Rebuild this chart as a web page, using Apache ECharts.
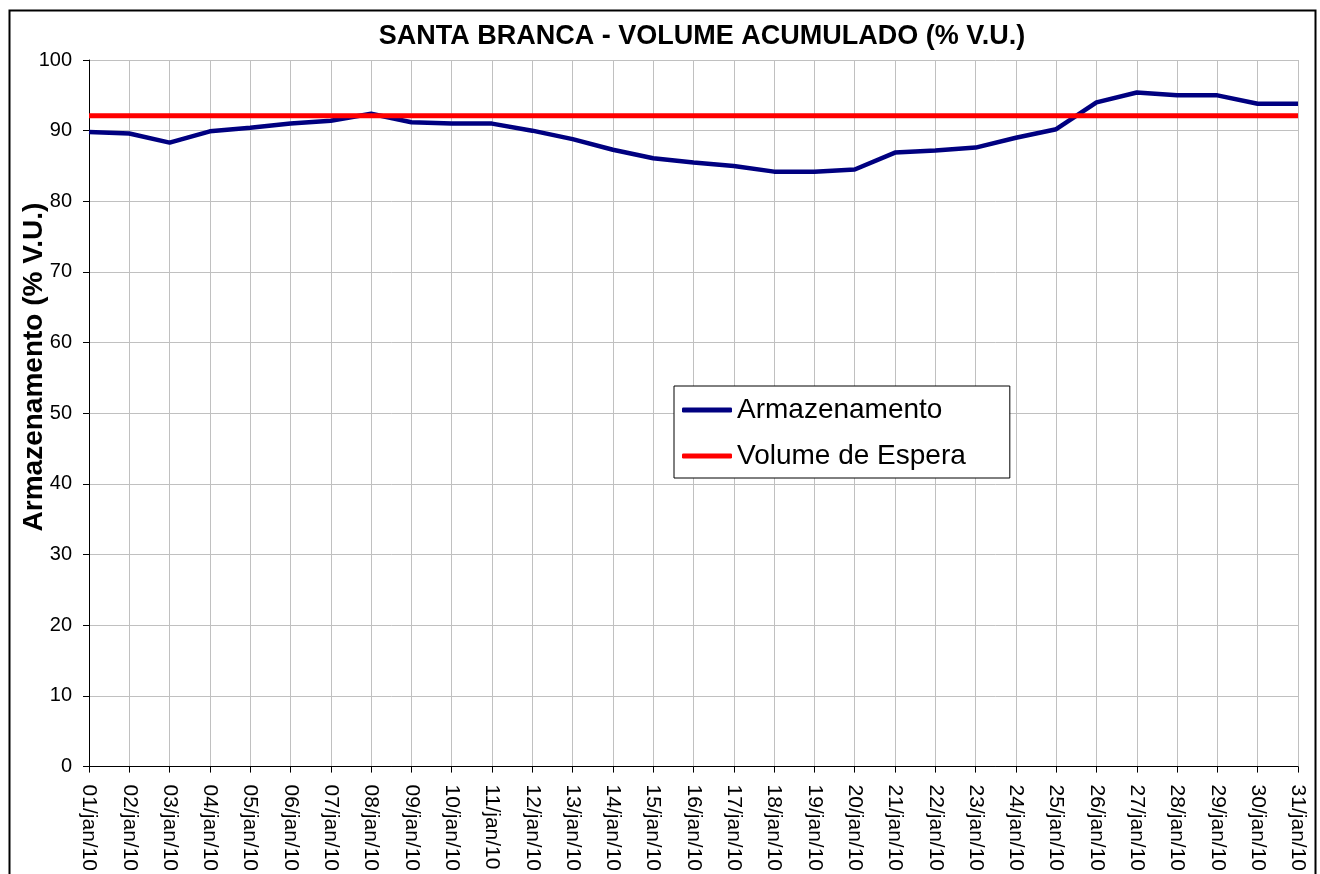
<!DOCTYPE html>
<html>
<head>
<meta charset="utf-8">
<script src="https://cdn.jsdelivr.net/npm/echarts@6/dist/echarts.min.js"></script>
<style>
  html, body { margin: 0; padding: 0; background: #fff; }
  #chart { width: 1320px; height: 874px; }
</style>
</head>
<body>
<div id="chart"></div>
<script>
// datas (eixo x)
var aDatas = ['01/jan/10', '02/jan/10', '03/jan/10', '04/jan/10', '05/jan/10', '06/jan/10', '07/jan/10',
    '08/jan/10', '09/jan/10', '10/jan/10', '11/jan/10', '12/jan/10', '13/jan/10', '14/jan/10',
    '15/jan/10', '16/jan/10', '17/jan/10', '18/jan/10', '19/jan/10', '20/jan/10', '21/jan/10',
    '22/jan/10', '23/jan/10', '24/jan/10', '25/jan/10', '26/jan/10', '27/jan/10', '28/jan/10',
    '29/jan/10', '30/jan/10', '31/jan/10'];
// armazenamento (% V.U.)
var aArmazenamento = [89.8, 89.6, 88.3, 89.9, 90.4, 91.0, 91.4, 92.4, 91.2, 91.0, 91.0, 90.0, 88.8, 87.3,
    86.1, 85.5, 85.0, 84.2, 84.2, 84.5, 86.9, 87.2, 87.6, 89.0, 90.2, 94.0, 95.4, 95.0, 95.0, 93.8, 93.8];
// volume de espera
var aEspera = [92.1, 92.1, 92.1, 92.1, 92.1, 92.1, 92.1, 92.1, 92.1, 92.1, 92.1, 92.1, 92.1, 92.1,
    92.1, 92.1, 92.1, 92.1, 92.1, 92.1, 92.1, 92.1, 92.1, 92.1, 92.1, 92.1, 92.1, 92.1, 92.1, 92.1, 92.1];
// ticks do eixo y
var yMin = 0, yMax = 100, yStep = 10;

var fonte = '"Liberation Sans", Arial, sans-serif';
var oChart = echarts.init(document.getElementById('chart'));

var chartopt = {
    animation: false,
    backgroundColor: '#fff',
    title: {
        text: 'SANTA BRANCA - VOLUME ACUMULADO (% V.U.)',
        left: 697,
        textAlign: 'center',
        top: 18,
        textStyle: { fontFamily: fonte, fontSize: 27, fontWeight: 'bold', color: '#000' }
    },
    legend: {
        orient: 'vertical',
        left: 674,
        top: 386,
        padding: [10, 44, 8, 8],
        backgroundColor: '#fff',
        borderColor: '#000',
        borderWidth: 1,
        itemWidth: 50,
        itemHeight: 5,
        itemGap: 18,
        icon: 'roundRect',
        data: ['Armazenamento', 'Volume de Espera'],
        textStyle: { fontFamily: fonte, fontSize: 28, color: '#000' }
    },
    grid: {
        left: 89,
        top: 60,
        right: 22,
        bottom: 106
    },
    xAxis: {
        type: 'category',
        boundaryGap: false,
        data: aDatas,
        axisLine: { lineStyle: { color: '#000', width: 1 } },
        axisTick: { show: true, alignWithLabel: true, length: 6, lineStyle: { color: '#000' } },
        axisLabel: {
            interval: 0,
            rotate: -90,
            margin: 18,
            fontFamily: fonte,
            fontSize: 21,
            color: '#000'
        },
        splitLine: { show: true, lineStyle: { color: '#c0c0c0', width: 1 } }
    },
    yAxis: {
        type: 'value',
        min: yMin,
        max: yMax,
        interval: yStep,
        axisLine: { show: true, lineStyle: { color: '#000', width: 1 } },
        axisTick: { show: true, length: 6, lineStyle: { color: '#000' } },
        axisLabel: { fontFamily: fonte, fontSize: 20, color: '#000', margin: 17 },
        splitLine: { show: true, lineStyle: { color: '#c0c0c0', width: 1 } }
    },
    series: [
        {
            name: 'Armazenamento',
            type: 'line',
            data: aArmazenamento,
            showSymbol: false,
            symbol: 'none',
            itemStyle: { color: '#000080' },
            lineStyle: { color: '#000080', width: 4.5 },
            z: 3
        },
        {
            name: 'Volume de Espera',
            type: 'line',
            data: aEspera,
            showSymbol: false,
            symbol: 'none',
            itemStyle: { color: '#ff0000' },
            lineStyle: { color: '#ff0000', width: 5 },
            z: 4
        }
    ],
    graphic: [
        {
            type: 'rect',
            left: 7,
            top: 8,
            shape: { width: 1306, height: 900 },
            style: { fill: 'none', stroke: '#000', lineWidth: 2 },
            silent: true
        },
        {
            type: 'text',
            x: 34,
            y: 367,
            rotation: Math.PI / 2,
            style: {
                text: 'Armazenamento (% V.U.)',
                fontFamily: fonte,
                fontSize: 28,
                fontWeight: 'bold',
                fill: '#000',
                align: 'center',
                verticalAlign: 'middle'
            }
        }
    ]
};
oChart.setOption(chartopt);
</script>
</body>
</html>
